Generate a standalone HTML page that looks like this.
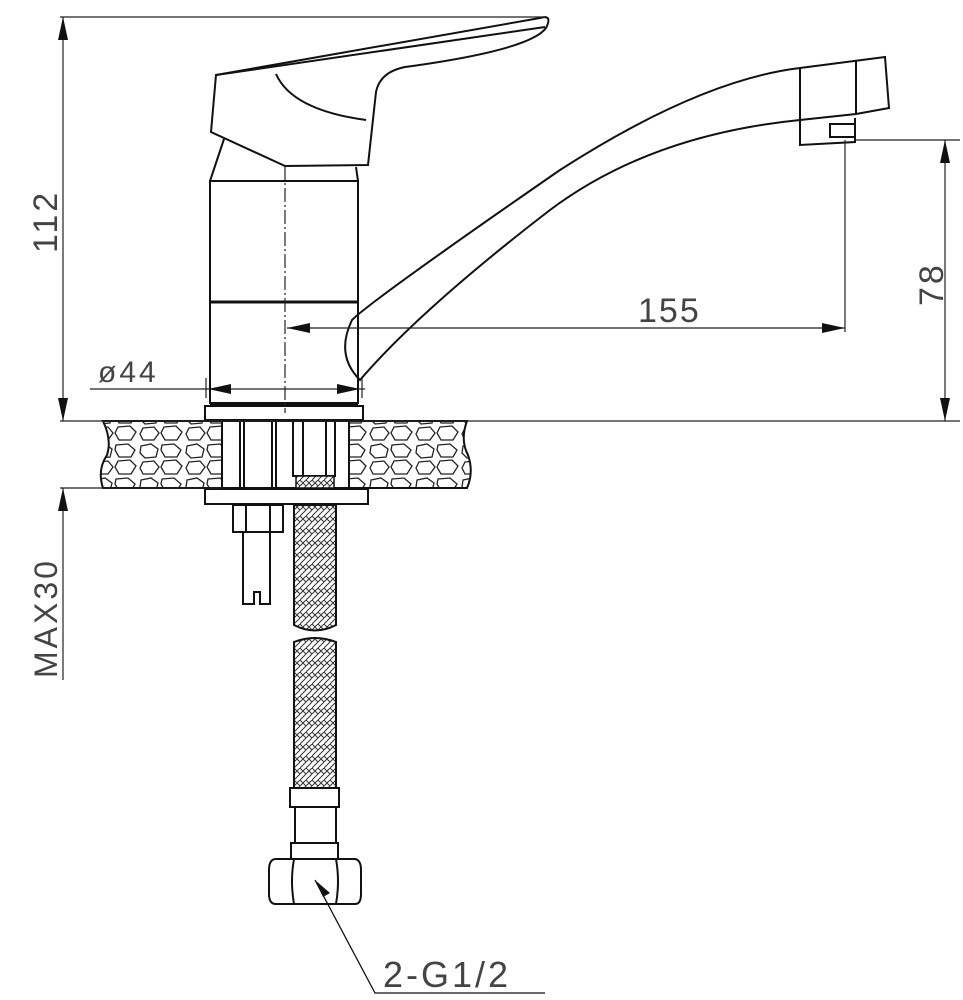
<!DOCTYPE html>
<html><head><style>html,body{margin:0;padding:0;background:#fff}svg{display:block}</style></head><body>
<svg width="963" height="1000" viewBox="0 0 963 1000" xmlns="http://www.w3.org/2000/svg" font-family="Liberation Sans, sans-serif">
<defs>
<pattern id="stone" width="46" height="34" patternUnits="userSpaceOnUse">
<rect width="46" height="34" fill="#fff"/>
<path d="M3,4 L13,2 L20,7 L18,15 L7,16 L2,11Z M24,3 L36,2 L43,8 L39,15 L27,15 L23,8Z M5,20 L16,19 L21,25 L16,32 L5,32 L2,26Z M26,19 L38,18 L44,24 L39,32 L27,32 L23,25Z" fill="none" stroke="#222" stroke-width="1.3"/>
</pattern>
<pattern id="braid" width="12" height="12" patternUnits="userSpaceOnUse">
<rect width="12" height="12" fill="#fff"/>
<path d="M0,0 L6,6 L0,12 M6,0 L12,6 L6,12 M6,6 L12,0 M0,6 L6,0" fill="none" stroke="#333" stroke-width="1"/>
</pattern>
</defs>
<g fill="none" stroke="#111" stroke-width="2">
<path d="M216,75 L540,18 Q553,14 546,28 Q530,50 405,67 Q380,72 376,92 L368,165 L285,166 L211,132 Z"/>
<path d="M216,75 L545,27"/>
<path d="M276,74 Q292,110 366,120"/>
<path d="M224,139 L210,181 M356,167 L358,181"/>
<rect x="210" y="181" width="148" height="222"/>
<line x1="210" y1="302" x2="358" y2="302" stroke-width="3"/>
<line x1="210" y1="404" x2="358" y2="404" stroke-width="3"/>
<rect x="205" y="406" width="158" height="14"/>
<path d="M360,380 Q335,355 352,320 Q372,300 560,170 Q700,80 800,68 L885,57 L889,108 L856,114 L800,120 Q650,135 550,210 Q420,310 360,380Z"/>
<path d="M800,68 L800,120 M856,60 L856,114"/>
<path d="M800,120 L800,145 L855,142 L855,118"/>
<rect x="830" y="124" width="25" height="13"/>
<path d="M103,421 L222,421 L222,488 L103,488 Q97,470 107,455 Q112,440 103,421Z" fill="url(#stone)"/>
<path d="M349,421 L467,421 Q460,440 468,455 Q474,472 467,488 L349,488Z" fill="url(#stone)"/>
<rect x="222" y="421" width="127" height="67"/>
<path d="M240,421 L240,488 M244,421 L244,488 M272,421 L272,488 M276,421 L276,488"/>
<rect x="293" y="421" width="42" height="55"/>
<path d="M303,421 L303,476 M326,421 L326,476"/>
<rect x="296" y="476" width="38" height="12" fill="url(#braid)" stroke-width="1.5"/>
<rect x="205" y="489" width="163" height="15"/>
<rect x="233" y="505" width="50" height="27"/>
<path d="M246,505 L246,532 M270,505 L270,532"/>
<path d="M243,532 L243,604 L254,604 L254,592 L260,592 L260,604 L270,604 L270,532"/>
<path d="M294,505 L294,625 Q315,636 336,625 L336,505 Z" fill="url(#braid)"/>
<path d="M294,788 L294,642 Q315,634 336,642 L336,788Z" fill="url(#braid)"/>
<rect x="290" y="788" width="49" height="19"/>
<rect x="295" y="807" width="41" height="36"/>
<rect x="291" y="843" width="47" height="16"/>
<path d="M276,859 L355,859 Q361,860 361,870 L361,894 Q361,904 355,904 L276,904 Q269,904 269,894 L269,870 Q269,859 276,859Z"/>
<path d="M294,859 Q290,881 294,904 M336,859 Q340,881 336,904"/>
</g>
<g stroke="#111" stroke-width="1.3" fill="none">
<path d="M315,880 L375,993 L545,993"/>
</g>
<path d="M315,880 L330,893 L323,897Z" fill="#111"/>
<g stroke="#222" stroke-width="1.2" fill="none">
<line x1="60" y1="17" x2="545" y2="17"/>
<line x1="63" y1="17" x2="63" y2="421"/>
<line x1="60" y1="421" x2="960" y2="421"/>
<line x1="60" y1="488" x2="222" y2="488"/>
<line x1="63" y1="488" x2="63" y2="680"/>
<line x1="855" y1="140" x2="960" y2="140"/>
<line x1="945" y1="140" x2="945" y2="421"/>
<line x1="845" y1="140" x2="845" y2="332"/>
<line x1="287" y1="328" x2="845" y2="328"/>
<line x1="90" y1="389" x2="365" y2="389"/>
<line x1="206" y1="378" x2="206" y2="398"/>
<line x1="362" y1="378" x2="362" y2="398"/>
<line x1="285" y1="166" x2="285" y2="413" stroke-dasharray="14,3,2,3"/>
</g>
<g fill="#111">
<path d="M63,17 L58,40 L68,40Z M63,421 L58,398 L68,398Z"/>
<path d="M63,488 L58,511 L68,511Z"/>
<path d="M945,140 L940,163 L950,163Z M945,421 L940,398 L950,398Z"/>
<path d="M287,328 L310,323 L310,333Z M845,328 L822,323 L822,333Z"/>
<path d="M208,389 L231,384 L231,394Z M360,389 L337,384 L337,394Z"/>
</g>
<g fill="#444">
<text x="98" y="382" font-size="30" letter-spacing="3">ø44</text>
<text x="638" y="322" font-size="34" letter-spacing="2">155</text>
<text x="383" y="987" font-size="36" letter-spacing="3">2-G1/2</text>
<text transform="translate(57,253) rotate(-90)" font-size="34" letter-spacing="3">112</text>
<text transform="translate(57,678) rotate(-90)" font-size="32" letter-spacing="3">MAX30</text>
<text transform="translate(943,306) rotate(-90)" font-size="34" letter-spacing="3">78</text>
</g>
</svg>
</body></html>
